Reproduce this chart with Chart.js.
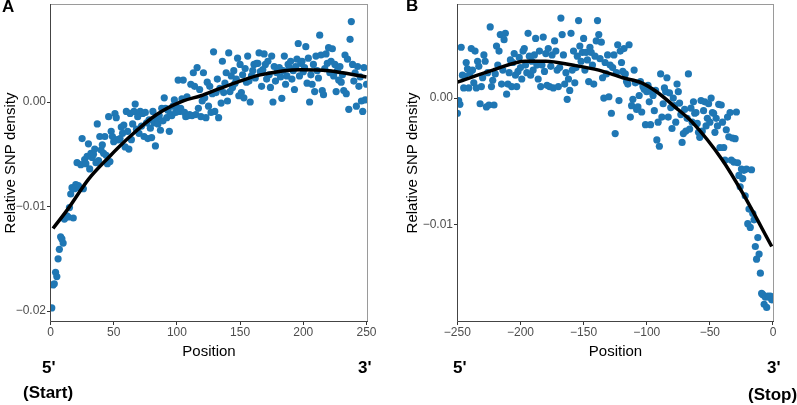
<!DOCTYPE html>
<html>
<head>
<meta charset="utf-8">
<script src="https://cdn.jsdelivr.net/npm/chart.js@4.4.1/dist/chart.umd.min.js"></script>
<style>
  body { margin: 0; background: #fff; width: 797px; height: 405px; overflow: hidden; position: relative; font-family: 'Liberation Sans', Arial, sans-serif; }
  canvas { position: absolute; top: 0; }
  .lbl { position: absolute; font-weight: bold; font-size: 17px; line-height: 17px; color: #000; white-space: nowrap; }
</style>
</head>
<body>
<canvas id="chartA" width="385" height="362" style="left:0px"></canvas>
<canvas id="chartB" width="385" height="362" style="left:402px"></canvas>

<div class="lbl" style="left:2px;top:-2px">A</div>
<div class="lbl" style="left:406px;top:-3px">B</div>
<div class="lbl" style="left:42px;top:359px">5'</div>
<div class="lbl" style="left:358px;top:359px">3'</div>
<div class="lbl" style="left:23px;top:384px">(Start)</div>
<div class="lbl" style="left:453px;top:359px">5'</div>
<div class="lbl" style="left:767px;top:359px">3'</div>
<div class="lbl" style="left:748px;top:386px">(Stop)</div>

<script>
// relative SNP density, in units of 0.001, one value per position
// panel A: positions 1..250 after the start codon
const densityA = [
  -19.7, -17.5, -17.4, -16.3, -16.7, -15.0, -14.1, -12.9, -13.1, -13.5,
  -11.2, -11.0, -10.9, -11.0, -10.1, -8.8, -8.2, -11.1, -8.3, -7.9,
  -5.8, -8.0, -8.2, -6.0, -3.5, -8.3, -5.5, -5.9, -5.2, -4.0,
  -6.4, -4.9, -5.3, -5.0, -4.5, -5.8, -2.1, -5.6, -3.3, -4.6,
  -4.1, -4.9, -3.3, -5.1, -5.9, -1.4, -5.7, -2.8, -3.3, -3.8,
  -1.1, -1.5, -3.6, -3.6, -3.5, -2.4, -3.0, -2.2, -4.3, -0.9,
  -2.8, -4.5, -1.1, -3.6, -2.1, -0.9, -0.2, -2.6, -1.4, -3.0,
  -0.9, -2.3, -1.1, -3.3, -1.0, -2.0, -3.5, -1.7, -2.5, -3.4,
  -0.9, -2.0, -4.2, -1.6, -2.1, -1.3, -2.7, -0.6, -1.8, 0.4,
  -0.6, -1.5, -0.8, -2.8, -1.2, -1.3, -0.4, 0.2, -1.0, -0.5,
  2.1, -0.9, -0.6, 0.3, 2.1, -1.0, -1.4, 0.5, -1.3, -1.2,
  1.7, -1.3, 2.8, 1.5, -1.2, 3.3, -0.6, 1.2, -1.4, 0.1,
  2.8, 0.4, -1.5, 1.9, -0.4, 1.5, -1.0, 0.8, 4.8, -0.9,
  0.9, 2.2, -1.5, 1.3, -0.1, 3.9, 0.9, 1.8, 2.8, 0.1,
  4.7, 1.0, 2.5, 1.4, 3.0, 1.8, 2.2, 4.2, 0.6, 3.6,
  0.9, 2.6, 0.4, 3.2, 1.9, 4.4, 2.0, 0.0, 2.5, 3.0,
  3.6, 2.3, 3.7, 3.7, 4.7, 2.9, 1.5, 3.1, 4.6, 3.6,
  2.2, 3.9, 2.6, 1.4, 4.4, 0.0, 3.4, 2.0, 2.8, 3.2,
  3.3, 2.4, 0.35, 3.0, 4.4, 1.7, 2.5, 3.6, 3.3, 3.9,
  2.2, 3.0, 1.2, 3.4, 4.1, 5.6, 2.5, 3.7, 3.9, 2.9,
  3.3, 5.3, 1.8, 4.2, 0.0, 2.6, 1.7, 3.6, 1.0, 4.4,
  3.0, 2.3, 6.4, 4.5, 1.1, 0.7, 3.2, 4.6, 3.7, 5.2,
  2.8, 3.9, 5.1, 2.5, 3.6, 1.0, 3.0, 2.1, 3.4, 1.9,
  2.6, 1.1, 4.5, 0.8, 4.1, -0.7, 6.0, 7.7, 3.6, 2.0,
  2.8, -0.4, 3.4, 1.5, 2.4, 0.1, -0.9, 3.3, 0.2, 1.7
];

// panel B: positions -250..-1 before the stop codon
const densityB = [
  -1.2, -0.2, -0.5, 4.0, 1.8, 0.8, 1.7, 2.8, 2.3, 0.8,
  2.0, 3.9, 2.2, 1.2, 3.7, 0.8, 2.9, 2.5, -0.45, 0.9,
  1.6, 3.4, 2.9, -0.7, 2.0, -0.55, 5.6, 0.9, 1.4, -0.55,
  1.9, 4.1, 2.6, 3.7, 5.0, 1.1, 2.2, 4.6, 5.1, 0.3,
  1.1, 2.0, 3.0, 0.9, 2.8, 3.5, 1.8, 0.9, 2.1, 3.2,
  2.4, 1.5, 3.7, 3.9, 2.6, 2.0, 5.1, 3.3, 1.8, 2.9,
  2.2, 3.4, 4.7, 2.6, 1.5, 3.7, 0.9, 2.6, 4.8, 2.1,
  3.5, 1.0, 3.9, 0.9, 2.5, 3.4, 0.8, 4.5, 3.7, 2.2,
  0.9, 2.4, 6.3, 5.0, 3.4, 1.1, 2.0, -0.1, 1.5, 0.6,
  5.1, 2.2, 3.7, 1.2, 2.4, 3.3, 6.1, 4.1, 2.9, 3.6,
  4.7, 2.2, 3.6, 3.0, 1.3, 4.0, 3.6, 2.6, 1.1, 3.3,
  4.5, 6.1, 5.0, 3.1, 4.4, 1.6, 0.0, 2.8, 1.9, 3.4,
  0.1, 2.6, -1.2, 2.4, 3.4, -2.8, 2.0, 4.2, -0.2, 3.7,
  2.8, 2.1, 3.9, 1.9, 1.3, 1.1, 4.2, -1.5, -0.6, -0.1,
  2.2, 1.2, -0.9, -0.7, 0.2, 1.3, -1.1, 0.9, 0.7, -2.1,
  0.5, 1.0, -0.3, -2.1, 0.5, 0.2, -1.0, 0.6, -3.3, -1.9,
  -3.8, 1.9, -1.5, -0.45, 0.8, 0.5, 1.6, -1.5, 0.4, -0.75,
  -2.4, 0.0, -0.6, -1.9, 1.1, 0.5, -0.4, -1.3, -3.5, -2.8,
  -0.9, -2.6, -1.6, 1.9, -2.45, -0.8, -1.9, -0.3, -1.2, -1.15,
  -2.0, -2.7, -3.1, -0.2, -2.6, -1.0, -0.3, -2.2, -1.6, -0.45,
  -1.9, 0.0, -1.15, -1.2, -2.7, -1.6, -2.2, -0.5, -3.9, -0.55,
  -1.9, -3.9, -4.9, -2.5, -1.5, -3.05, -1.15, -4.9, -3.15, -5.05,
  -3.2, -1.1, -5.1, -6.1, -7.0, -5.6, -6.35, -5.7, -7.7, -5.6,
  -9.9, -8.75, -10.2, -5.65, -9.1, -9.6, -11.7, -12.7, -11.0, -12.3,
  -13.8, -15.4, -15.5, -16.25, -15.7, -16.5, -15.6, -15.7, -15.6, -15.9
];

// smoothed trend lines
const fitPosA = [2, 14, 30, 46, 62, 84, 105, 119, 132, 150, 166, 198, 220, 250];
const fitA = [-12.1, -10.2, -7.4, -5.3, -3.4, -1.2, 0.1, 0.6, 1.2, 2.0, 2.6, 3.1, 3.0, 2.4];
const fitPosB = [-250, -222, -196, -180, -159, -138, -119, -104, -93, -77, -64, -40, -24, -1];
const fitB = [1.25, 2.2, 2.9, 2.9, 2.6, 2.2, 1.6, 1.2, 0.55, -0.75, -1.9, -4.9, -7.5, -11.7];

// tick labels
const xTicksA = [0, 50, 100, 150, 200, 250];
const xTicksB = [-250, -200, -150, -100, -50, 0];
const yTicksA = [-20, -10, 0];
const yTicksB = [-10, 0];

// positions (categories) for each panel
const posA = [];
for (let p = 1; p <= 250; p++) posA.push(p);
const posB = [];
for (let p = -250; p <= -1; p++) posB.push(p);

const FONT = "'Liberation Sans', Arial, sans-serif";
const minus = (v) => (v < 0 ? "\u2212" + Math.abs(v) : String(v));

// draws the panel frame
const boxPlugin = {
  id: "box",
  afterDraw(chart) {
    const { ctx, chartArea: a } = chart;
    ctx.save();
    ctx.lineWidth = 1;
    ctx.strokeStyle = "#9a9a9a";
    ctx.strokeRect(a.left + 0.5, a.top + 0.5, a.right - a.left - 1, a.bottom - a.top - 1);
    ctx.strokeStyle = "#444";
    ctx.beginPath();
    ctx.moveTo(a.left + 0.5, a.top);
    ctx.lineTo(a.left + 0.5, a.bottom - 0.5);
    ctx.lineTo(a.right, a.bottom - 0.5);
    ctx.stroke();
    ctx.restore();
  }
};

function buildPanel(id, xs, ys, fx, fy, xTicks, yTicks, xRange, yRange, yWidth, padRight) {
  const points = xs.map((x, i) => ({ x: x, y: ys[i] }));
  const fit = fx.map((x, i) => ({ x: x, y: fy[i] }));

  return new Chart(document.getElementById(id), {
    type: "scatter",
    data: {
      datasets: [
        {
          type: "line",
          data: fit,
          borderColor: "#000",
          borderWidth: 3.5,
          pointRadius: 0,
          fill: false,
          cubicInterpolationMode: "monotone",
          order: 0
        },
        {
          data: points,
          backgroundColor: "#1f77b4",
          borderWidth: 0,
          pointRadius: 3.6,
          order: 1
        }
      ]
    },
    options: {
      responsive: false,
      animation: false,
      layout: { padding: { top: 2, right: padRight, bottom: 0, left: 0 } },
      plugins: { legend: { display: false }, tooltip: { enabled: false } },
      scales: {
        x: {
          type: "linear",
          min: xRange[0],
          max: xRange[1],
          afterBuildTicks: (s) => { s.ticks = xTicks.map((v) => ({ value: v })); },
          afterFit: (s) => { s.height = 40; s.paddingLeft = 0; s.paddingRight = 0; },
          ticks: {
            callback: (v) => minus(v),
            color: "#4d4d4d",
            font: { family: FONT, size: 12 },
            padding: 0,
            maxRotation: 0,
            autoSkip: false
          },
          grid: { drawOnChartArea: false, drawTicks: true, tickLength: 3, color: "#333" },
          border: { display: false },
          title: {
            display: true,
            text: "Position",
            color: "#000",
            font: { family: FONT, size: 15 },
            padding: { top: 0, bottom: 1 }
          }
        },
        y: {
          type: "linear",
          min: yRange[0],
          max: yRange[1],
          afterBuildTicks: (s) => { s.ticks = yTicks.map((v) => ({ value: v })); },
          afterFit: (s) => { s.width = yWidth; s.paddingTop = 0; s.paddingBottom = 0; },
          ticks: {
            callback: (v) => (v < 0 ? "\u2212" : "") + Math.abs(v / 1000).toFixed(2),
            color: "#4d4d4d",
            font: { family: FONT, size: 12 },
            padding: 1
          },
          grid: { drawOnChartArea: false, drawTicks: true, tickLength: 3, color: "#333" },
          border: { display: false },
          title: {
            display: true,
            text: "Relative SNP density",
            color: "#000",
            font: { family: FONT, size: 15 },
            padding: { top: 1.5, bottom: 0 }
          }
        }
      }
    },
    plugins: [boxPlugin]
  });
}

buildPanel("chartA", posA, densityA, fitPosA, fitA, xTicksA, yTicksA, [-0.4, 251.2], [-21.05, 9.38], 50, 17);
buildPanel("chartB", posB, densityB, fitPosB, fitB, xTicksB, yTicksB, [-250.3, 0.8], [-17.65, 7.41], 55, 13);
</script>
</body>
</html>
